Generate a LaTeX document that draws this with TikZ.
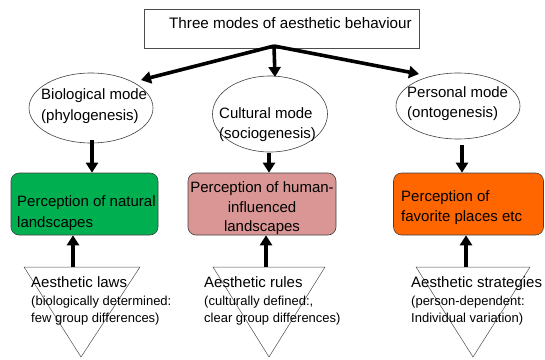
\documentclass[tikz,border=0pt]{standalone}
\usepackage{fontspec}
\setmainfont{Liberation Sans}
\usetikzlibrary{arrows.meta,shapes.geometric}
\definecolor{natgreen}{HTML}{00B050}
\definecolor{humpink}{HTML}{D99694}
\definecolor{favorange}{HTML}{FF6600}
\begin{document}
\begin{tikzpicture}[x=1pt,y=-1pt,
  maintext/.style={font=\fontsize{15}{20}\selectfont, inner sep=0pt, anchor=base west},
  subtext/.style={font=\fontsize{13}{17}\selectfont, inner sep=0pt, anchor=base west},
  modeell/.style={draw=black!75, line width=0.6pt, ellipse, inner sep=0pt},
  percbox/.style={draw=black!75, line width=0.6pt, rounded corners=8pt, inner sep=0pt, minimum height=62pt},
  tribox/.style={draw=black!70, line width=0.5pt},
  bigarrow/.style={line width=3.6pt, -{Triangle[length=10pt,width=12pt]}},
]
\useasboundingbox (0,0) rectangle (545,359);

% top box
\node[draw=black!70, line width=0.6pt, minimum width=275pt, minimum height=39pt, inner sep=0pt] (top) at (281.5,28.5) {};
\node[maintext, font=\fontsize{15.2}{20}\selectfont] (toptxt) at (169,28) {Three modes of aesthetic behaviour};

% ellipses
\node[modeell, minimum width=124pt, minimum height=70pt] (bio) at (91,108) {};
\node[modeell, minimum width=115pt, minimum height=76pt] (cul) at (270,114) {};
\node[modeell, minimum width=124pt, minimum height=66pt] (per) at (458,106) {};
\node[maintext] (bio1) at (41,99) {Biological mode};
\node[maintext] (bio2) at (41,120) {(phylogenesis)};
\node[maintext] (cul1) at (219,118) {Cultural mode};
\node[maintext] (cul2) at (219,138) {(sociogenesis)};
\node[maintext] (per1) at (407,97) {Personal mode};
\node[maintext] (per2) at (407,117) {(ontogenesis)};

% perception boxes
\node[percbox, fill=natgreen, minimum width=147pt] (nat) at (84.5,204) {};
\node[percbox, fill=humpink, minimum width=148pt] (hum) at (262,204) {};
\node[percbox, fill=favorange, minimum width=150pt] (fav) at (468.5,204) {};
\node[maintext] (nat1) at (17,206) {Perception of natural};
\node[maintext] (nat2) at (17,227) {landscapes};
\node[maintext, anchor=base] (hum1) at (262,192) {Perception of human-};
\node[maintext, anchor=base] (hum2) at (262,212) {influenced};
\node[maintext, anchor=base] (hum3) at (262,231) {landscapes};
\node[maintext] (fav1) at (401,201) {Perception of};
\node[maintext] (fav2) at (401,221) {favorite places etc};

% triangles
\coordinate (ta1) at (24,267); \coordinate (tb1) at (140,267); \coordinate (tc1) at (81,357);
\coordinate (ta2) at (213,267); \coordinate (tb2) at (325,267); \coordinate (tc2) at (269,357);
\coordinate (ta3) at (416,267); \coordinate (tb3) at (530,267); \coordinate (tc3) at (473,357);
\draw[tribox] (ta1) -- (tb1) -- (tc1) -- cycle;
\draw[tribox] (ta2) -- (tb2) -- (tc2) -- cycle;
\draw[tribox] (ta3) -- (tb3) -- (tc3) -- cycle;

\node[maintext] (law1) at (31,287) {Aesthetic laws};
\node[subtext] (law2) at (31,305) {(biologically determined:};
\node[subtext] (law3) at (31,322) {few group differences)};
\node[maintext] (rul1) at (204,287) {Aesthetic rules};
\node[subtext] (rul2) at (204,305) {(culturally defined:,};
\node[subtext] (rul3) at (204,322) {clear group differences)};
\node[maintext] (str1) at (411,287) {Aesthetic strategies};
\node[subtext] (str2) at (411,305) {(person-dependent:};
\node[subtext] (str3) at (411,322) {Individual variation)};

% arrows from top box
\coordinate (src) at (274,46);
\coordinate (tipbio) at (141,80);
\coordinate (tipcul) at (275,77);
\coordinate (tipper) at (419,74);
\draw[bigarrow] (src) -- (tipbio);
\draw[bigarrow] (src) -- (tipcul);
\draw[bigarrow] (src) -- (tipper);

% arrows ellipse -> box
\coordinate (d1) at (92,140);
\coordinate (d2) at (269,153);
\coordinate (d3) at (462,145);
\draw[bigarrow] (d1) -- (d1 |- nat.north);
\draw[bigarrow] (d2) -- (d2 |- hum.north);
\draw[bigarrow] (d3) -- (d3 |- fav.north);

% arrows triangle -> box
\coordinate (u1) at (73,267);
\coordinate (u2) at (266,267);
\coordinate (u3) at (466,267);
\draw[bigarrow] (u1) -- (u1 |- nat.south);
\draw[bigarrow] (u2) -- (u2 |- hum.south);
\draw[bigarrow] (u3) -- (u3 |- fav.south);
\end{tikzpicture}
\end{document}
